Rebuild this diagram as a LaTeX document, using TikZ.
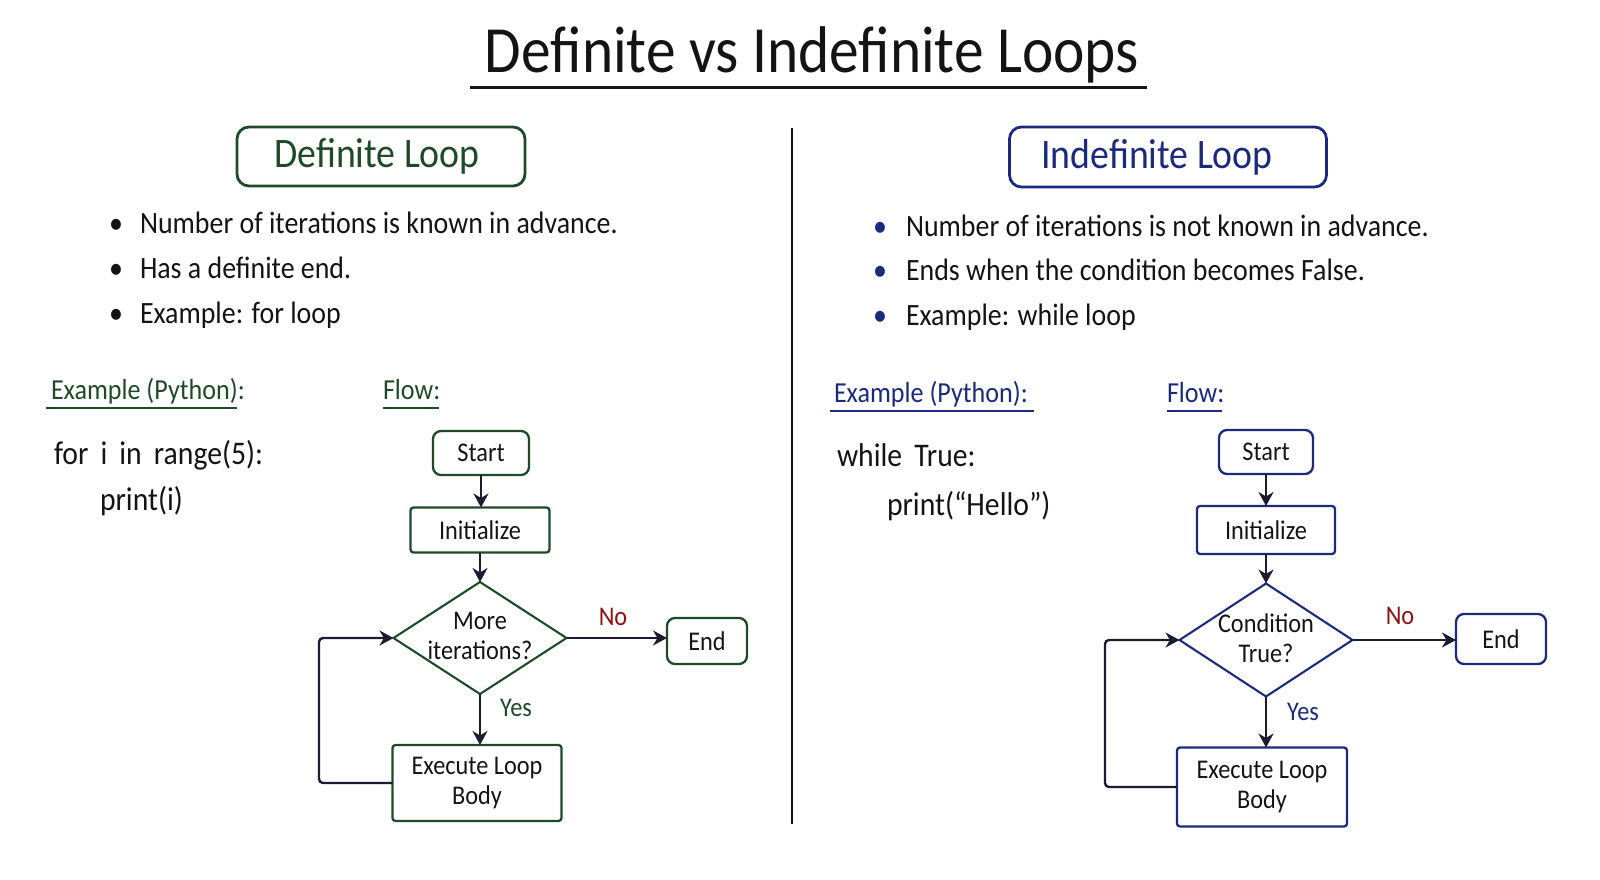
\documentclass[tikz,border=0pt]{standalone}
\usepackage{fontspec}
\setmainfont{Carlito}[FakeStretch=0.9]
\newfontfamily\codefam{Carlito}[FakeStretch=0.9, WordSpace=1.8]
\usetikzlibrary{arrows.meta,shapes.geometric}
\definecolor{dgreen}{HTML}{1F4A28}
\definecolor{navy}{HTML}{1C2A7E}
\definecolor{ink}{HTML}{141414}
\definecolor{nored}{HTML}{8E1010}
\definecolor{arr}{HTML}{1C1C30}
\begin{document}
\begin{tikzpicture}[x=1pt,y=-1pt,
  every node/.style={inner sep=0pt, outer sep=0pt},
  titlefont/.style={font=\fontsize{66}{70}\selectfont, text=ink},
  hfont/.style={font=\fontsize{42}{46}\selectfont},
  hbox/.style={line width=2.8pt, rounded corners=12pt},
  bfont/.style={font=\fontsize{31}{34}\selectfont, text=ink},
  sfont/.style={font=\fontsize{29}{32}\selectfont},
  cfont/.style={font=\codefam\fontsize{33}{36}\selectfont, text=ink},
  ftext/.style={font=\fontsize{27}{30}\selectfont, text=ink, align=center},
  fbox/.style={ftext, line width=2.3pt},
  dia/.style={diamond, line width=2.1pt},
  lbl/.style={font=\fontsize{27}{30}\selectfont},
  flowarrow/.style={draw=arr, line width=2.4pt, >={Stealth[length=14pt,width=15pt,inset=4.5pt]}, ->},
  uline/.style={line width=2.5pt},
]
\useasboundingbox[fill=white] (0,0) rectangle (1600,880);

% title
\node[titlefont, anchor=base] (title) at (812,73) {Definite vs Indefinite Loops};
\draw[ink, line width=3pt] (470,88) -- (1147,88);

% divider
\draw[ink, line width=2.5pt] (792,128) -- (792,824);

% headers
\node[hbox, draw=dgreen, minimum width=288, minimum height=59] (hl) at (381,156.5) {};
\node[hfont, text=dgreen, anchor=base] (hlt) at (377,167) {Definite Loop};
\node[hbox, draw=navy, minimum width=317, minimum height=60] (hr) at (1168,157) {};
\node[hfont, text=navy, anchor=base] (hrt) at (1157,168) {Indefinite Loop};

% bullets left
\node[bfont, anchor=base] (bl1) at (116,233) {•};
\node[bfont, anchor=base west] (tl1) at (140,233) {Number of iterations is known in advance.};
\node[bfont, anchor=base] (bl2) at (116,278) {•};
\node[bfont, anchor=base west] (tl2) at (140,278) {Has a definite end.};
\node[bfont, anchor=base] (bl3) at (116,323) {•};
\node[bfont, anchor=base west] (tl3) at (140,323) {Example: for loop};

% bullets right
\node[bfont, text=navy, anchor=base] (br1) at (880,236) {•};
\node[bfont, anchor=base west] (tr1) at (906,236) {Number of iterations is not known in advance.};
\node[bfont, text=navy, anchor=base] (br2) at (880,280) {•};
\node[bfont, anchor=base west] (tr2) at (906,280) {Ends when the condition becomes False.};
\node[bfont, text=navy, anchor=base] (br3) at (880,325) {•};
\node[bfont, anchor=base west] (tr3) at (906,325) {Example: while loop};

% section labels
\node[sfont, text=dgreen, anchor=base west] (exl) at (51,399) {Example (Python):};
\draw[dgreen, uline] (46,408) -- (237,408);
\node[sfont, text=dgreen, anchor=base west] (fll) at (383,399) {Flow:};
\draw[dgreen, uline] (383,408) -- (439,408);
\node[sfont, text=navy, anchor=base west] (exr) at (834,402) {Example (Python):};
\draw[navy, uline] (830,411) -- (1034,411);
\node[sfont, text=navy, anchor=base west] (flr) at (1167,402) {Flow:};
\draw[navy, uline] (1167,411) -- (1222,411);

% code
\node[cfont, anchor=base west] (c1) at (54,464) {for i in range(5):};
\node[cfont, anchor=base west] (c2) at (100,510) {print(i)};
\node[cfont, anchor=base west] (c3) at (837,466) {while True:};
\node[cfont, anchor=base west] (c4) at (887,515) {print(“Hello”)};

% left flowchart
\node[fbox, draw=dgreen, rounded corners=8pt, minimum width=96, minimum height=44] (s1) at (481,453) {Start};
\node[fbox, draw=dgreen, rounded corners=3pt, minimum width=139, minimum height=45] (i1) at (480,530) {Initialize};
\node[dia, draw=dgreen, minimum width=173, minimum height=112] (d1) at (480,638) {};
\node[ftext] (d1t) at (480,636) {More\\iterations?};
\node[fbox, draw=dgreen, rounded corners=8pt, minimum width=80, minimum height=46] (e1) at (707,641) {End};
\node[fbox, draw=dgreen, rounded corners=3pt, minimum width=169, minimum height=76] (x1) at (477,783) {Execute Loop\\Body};
\coordinate (l1) at (319,700);
\draw[flowarrow] (s1.south) -- (s1.south |- i1.north);
\draw[flowarrow] (i1.south) -- (i1.south |- d1.north);
\draw[flowarrow] (d1.south) -- (d1.south |- x1.north);
\draw[flowarrow] (d1.east) -- (d1.east -| e1.west);
\draw[flowarrow, rounded corners=4pt] (x1.west) -- (l1 |- x1.west) -- (l1 |- d1.west) -- (d1.west);
\node[lbl, text=dgreen] (y1) at (516,708) {Yes};
\node[lbl, text=nored] (n1) at (613,617) {No};

% right flowchart
\node[fbox, draw=navy, rounded corners=8pt, minimum width=94, minimum height=44] (s2) at (1266,452) {Start};
\node[fbox, draw=navy, rounded corners=3pt, minimum width=138, minimum height=48] (i2) at (1266,530) {Initialize};
\node[dia, draw=navy, minimum width=173, minimum height=113] (d2) at (1266,640) {};
\node[ftext] (d2t) at (1266,638) {Condition\\True?};
\node[fbox, draw=navy, rounded corners=8pt, minimum width=90, minimum height=50] (e2) at (1501,639) {End};
\node[fbox, draw=navy, rounded corners=3pt, minimum width=170, minimum height=79] (x2) at (1262,787) {Execute Loop\\Body};
\coordinate (l2) at (1105,700);
\draw[flowarrow] (s2.south) -- (s2.south |- i2.north);
\draw[flowarrow] (i2.south) -- (i2.south |- d2.north);
\draw[flowarrow] (d2.south) -- (d2.south |- x2.north);
\draw[flowarrow] (d2.east) -- (d2.east -| e2.west);
\draw[flowarrow, rounded corners=4pt] (x2.west) -- (l2 |- x2.west) -- (l2 |- d2.west) -- (d2.west);
\node[lbl, text=navy] (y2) at (1303,712) {Yes};
\node[lbl, text=nored] (n2) at (1400,616) {No};
\end{tikzpicture}
\end{document}
